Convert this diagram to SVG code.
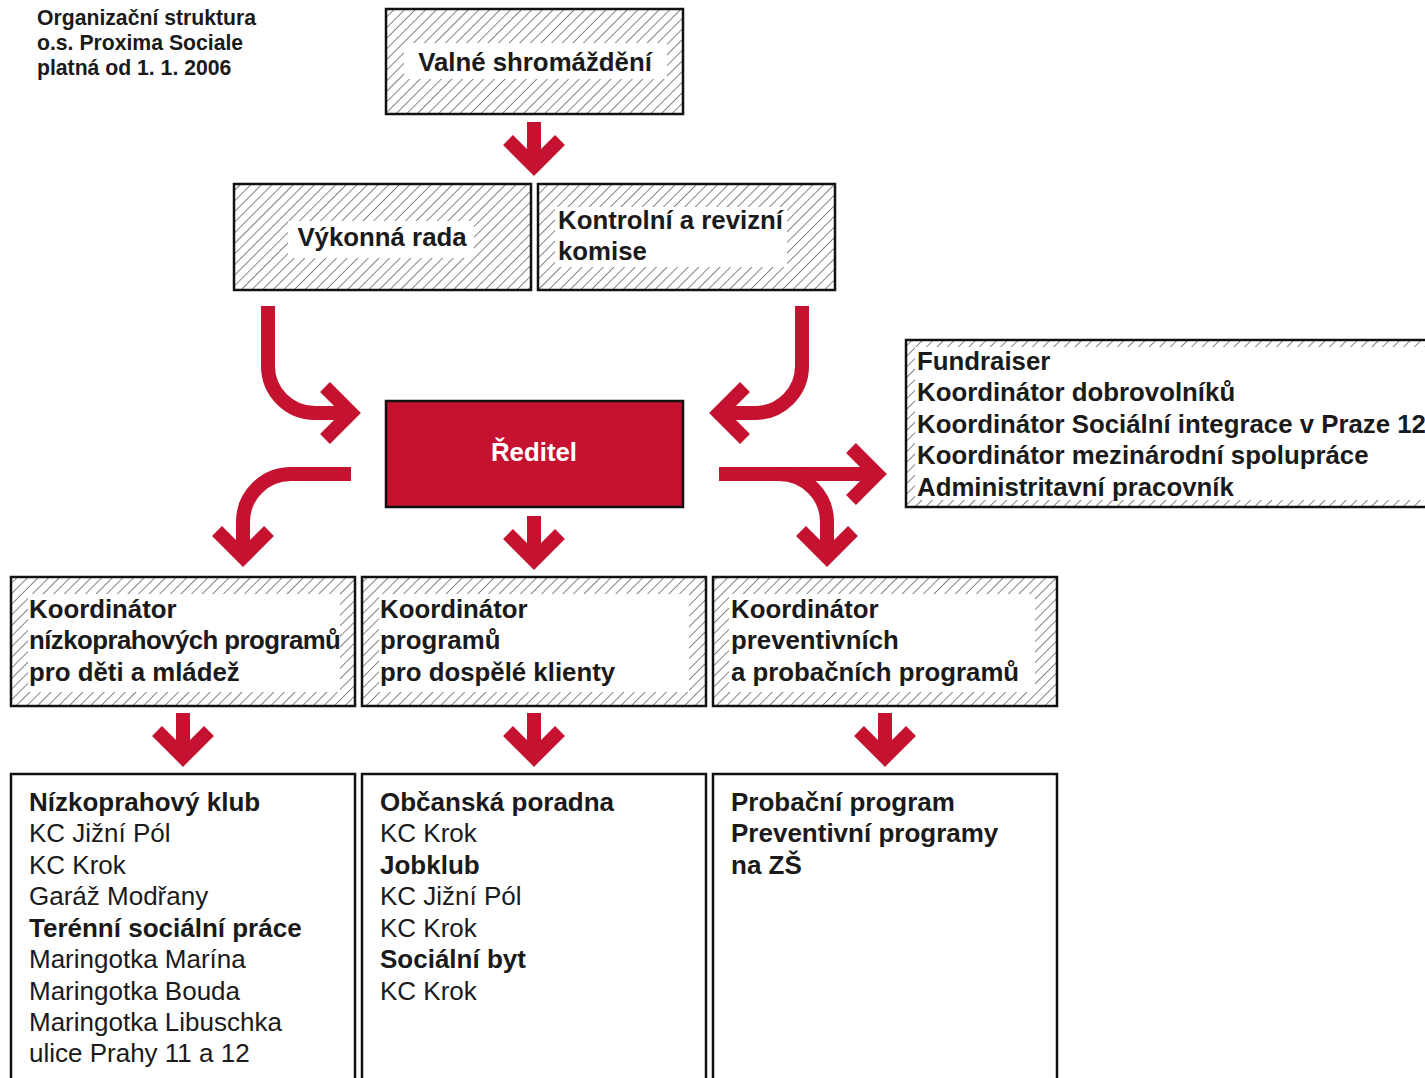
<svg xmlns="http://www.w3.org/2000/svg" width="1425" height="1078" viewBox="0 0 1425 1078">
<defs>
<pattern id="hatch" width="7.5" height="7.5" patternUnits="userSpaceOnUse" patternTransform="rotate(45)">
<rect width="7.5" height="7.5" fill="#fff"/>
<line x1="0" y1="0" x2="0" y2="7.5" stroke="#222" stroke-width="1.1"/>
</pattern>
</defs>
<style>
.hb{fill:url(#hatch);stroke:#111;stroke-width:2.5}
.pb{fill:#fff;stroke:#111;stroke-width:2.5}
.wb{fill:#fff}
.t{font-family:"Liberation Sans",Arial,Helvetica,sans-serif;font-size:25.8px;fill:#1a1a1a}
.s{font-size:26px}
.b{font-weight:bold}
.arr{fill:none;stroke:#C41230;stroke-width:14;stroke-linejoin:miter;stroke-miterlimit:10}
</style>
<rect width="1425" height="1078" fill="#fff"/>

<g id="title">
<text class="t b" style="font-size:21.2px" x="37" y="25">Organizační struktura</text>
<text class="t b" style="font-size:21.2px" x="37" y="50">o.s. Proxima Sociale</text>
<text class="t b" style="font-size:21.2px" x="37" y="75">platná od 1. 1. 2006</text>
</g>

<g id="valne">
<rect class="hb" x="386" y="9" width="297" height="105"/>
<rect class="wb" x="404" y="43" width="263" height="36"/>
<text class="t b" x="535" y="71" text-anchor="middle">Valné shromáždění</text>
</g>

<g id="vykonna">
<rect class="hb" x="234" y="184" width="297" height="106"/>
<rect class="wb" x="288" y="221" width="186" height="37"/>
<text class="t b" x="382" y="246" text-anchor="middle">Výkonná rada</text>
</g>

<g id="kontrolni">
<rect class="hb" x="538" y="184" width="297" height="106"/>
<rect class="wb" x="555" y="207" width="232" height="60"/>
<text class="t b" x="558" y="229">Kontrolní a revizní</text>
<text class="t b" x="558" y="260">komise</text>
</g>

<g id="reditel">
<rect x="386" y="401" width="297" height="106" fill="#C41230" stroke="#111" stroke-width="2.5"/>
<text class="t b" x="534" y="461" text-anchor="middle" style="fill:#fff">Ředitel</text>
</g>

<g id="staff">
<rect class="hb" x="906" y="340" width="530" height="167"/>
<rect class="wb" x="915" y="347" width="520" height="153"/>
<text class="t b" x="917" y="370">Fundraiser</text>
<text class="t b" x="917" y="401">Koordinátor dobrovolníků</text>
<text class="t b" x="917" y="433">Koordinátor Sociální integrace v Praze 12</text>
<text class="t b" x="917" y="464">Koordinátor mezinárodní spolupráce</text>
<text class="t b" x="917" y="496">Administritavní pracovník</text>
</g>

<g id="koord1">
<rect class="hb" x="11" y="577" width="344" height="129"/>
<rect class="wb" x="28" y="594" width="312" height="98"/>
<text class="t b" x="29" y="618">Koordinátor</text>
<text class="t b" x="29" y="649" style="letter-spacing:-0.55px">nízkoprahových programů</text>
<text class="t b" x="29" y="681">pro děti a mládež</text>
</g>

<g id="koord2">
<rect class="hb" x="362" y="577" width="344" height="129"/>
<rect class="wb" x="379" y="594" width="310" height="98"/>
<text class="t b" x="380" y="618">Koordinátor</text>
<text class="t b" x="380" y="649">programů</text>
<text class="t b" x="380" y="681">pro dospělé klienty</text>
</g>

<g id="koord3">
<rect class="hb" x="713" y="577" width="344" height="129"/>
<rect class="wb" x="729" y="594" width="306" height="98"/>
<text class="t b" x="731" y="618">Koordinátor</text>
<text class="t b" x="731" y="649">preventivních</text>
<text class="t b" x="731" y="681">a probačních programů</text>
</g>

<g id="prog1">
<rect class="pb" x="11" y="774" width="344" height="320"/>
<text class="t s b" x="29" y="811">Nízkoprahový klub</text>
<text class="t s" x="29" y="842">KC Jižní Pól</text>
<text class="t s" x="29" y="874">KC Krok</text>
<text class="t s" x="29" y="905">Garáž Modřany</text>
<text class="t s b" x="29" y="937">Terénní sociální práce</text>
<text class="t s" x="29" y="968">Maringotka Marína</text>
<text class="t s" x="29" y="1000">Maringotka Bouda</text>
<text class="t s" x="29" y="1031">Maringotka Libuschka</text>
<text class="t s" x="29" y="1062">ulice Prahy 11 a 12</text>
</g>

<g id="prog2">
<rect class="pb" x="362" y="774" width="344" height="320"/>
<text class="t s b" x="380" y="811">Občanská poradna</text>
<text class="t s" x="380" y="842">KC Krok</text>
<text class="t s b" x="380" y="874">Jobklub</text>
<text class="t s" x="380" y="905">KC Jižní Pól</text>
<text class="t s" x="380" y="937">KC Krok</text>
<text class="t s b" x="380" y="968">Sociální byt</text>
<text class="t s" x="380" y="1000">KC Krok</text>
</g>

<g id="prog3">
<rect class="pb" x="713" y="774" width="344" height="320"/>
<text class="t s b" x="731" y="811">Probační program</text>
<text class="t s b" x="731" y="842">Preventivní programy</text>
<text class="t s b" x="731" y="874">na ZŠ</text>
</g>

<g id="connectors">
<path class="arr" d="M534,122 V166"/>
<polyline class="arr" points="508,140 534,166 560,140"/>

<path class="arr" d="M268,306 V366 A47,47 0 0 0 315,413 H351"/>
<polyline class="arr" points="325,387 351,413 325,439"/>

<path class="arr" d="M802,306 V366 A47,47 0 0 1 755,413 H719"/>
<polyline class="arr" points="745,387 719,413 745,439"/>

<path class="arr" d="M351,474 H291 A48,48 0 0 0 243,522 V557"/>
<polyline class="arr" points="217,531 243,557 269,531"/>

<path class="arr" d="M534,516 V560"/>
<polyline class="arr" points="508,534 534,560 560,534"/>

<path class="arr" d="M719,474 H877"/>
<polyline class="arr" points="851,448 877,474 851,500"/>
<path class="arr" d="M779,474 A48,48 0 0 1 827,522 V557"/>
<polyline class="arr" points="801,531 827,557 853,531"/>

<path class="arr" d="M183,713 V757"/>
<polyline class="arr" points="157,731 183,757 209,731"/>
<path class="arr" d="M534,713 V757"/>
<polyline class="arr" points="508,731 534,757 560,731"/>
<path class="arr" d="M885,713 V757"/>
<polyline class="arr" points="859,731 885,757 911,731"/>
</g>
</svg>
